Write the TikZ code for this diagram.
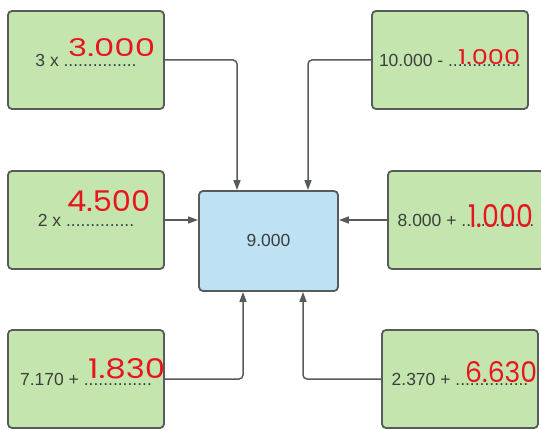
\documentclass[tikz,border=0pt]{standalone}
\usepackage{fontspec}
\setmainfont{Liberation Sans}
\newfontfamily\handfont{Poppins}
\usepackage{graphicx}
\usepackage{tikz}
\usetikzlibrary{arrows.meta}
\definecolor{sumgreen}{HTML}{C4E6AE}
\definecolor{sumblue}{HTML}{BEE2F3}
\definecolor{sumline}{HTML}{575B5A}
\definecolor{sumtext}{HTML}{3A3F3C}
\definecolor{handred}{HTML}{E8141E}
% handwritten answer, stretched to the given width and height
\newcommand{\handans}[3]{\resizebox{#1pt}{#2pt}{\handfont #3}}
\tikzset{
  % node options
  sum/.style={rectangle,rounded corners=4pt,draw=sumline,line width=1.8pt,
    fill=sumgreen,minimum width=156pt,minimum height=98pt,
    text=sumtext,font=\fontsize{17.5}{19}\selectfont,inner sep=0pt},
  result/.style={sum,fill=sumblue,minimum width=139pt,minimum height=100pt},
  answer/.style={text=handred,inner sep=0pt,anchor=base west},
  % path options
  feed/.style={draw=sumline,line width=1.5pt,rounded corners=4pt,
    -{Triangle[length=10pt,width=7pt]}},
}
\begin{document}
\begin{tikzpicture}[x=1pt,y=-1pt]
  \useasboundingbox (0,0) rectangle (541,430);
  \node[result] (total) at (268.5,241) {\raisebox{-6pt}[0pt][0pt]{\makebox[0pt]{9.000}}};
  \node[sum] (mul3) at (86,60) {3 x ...............};
  \node[sum] (minus) at (450,60) {10.000 - ...............};
  \node[sum] (mul2) at (86,220) {2 x ..............};
  \node[sum] (plus8) at (466,220) {8.000 + ...............};
  \node[sum] (plus7) at (86,379) {7.170 + ..............};
  \node[sum] (plus2) at (460,379) {2.370 + ...............};
  % answers
  \node[answer] (ans1) at (68,57) {\handans{87}{18}{3.000}};
  \node[answer] (ans2) at (458,65) {\handans{62}{15}{1.000}};
  \node[answer] (ans3) at (67,212) {\handans{83}{21}{4.500}};
  \node[answer] (ans4) at (468,228) {\handans{65}{23}{1.000}};
  \node[answer] (ans5) at (88,379) {\handans{77}{20}{1.830}};
  \node[answer] (ans6) at (465,383) {\handans{72}{21}{6.630}};
  % connectors
  \draw[feed] (mul3.east) -| ([xshift=-31.5pt]total.north);
  \draw[feed] (minus.west) -| ([xshift=39.5pt]total.north);
  \draw[feed] (mul2.east) -- (mul2.east -| total.west);
  \draw[feed] (plus8.west) -- (plus8.west -| total.east);
  \draw[feed] (plus7.east) -| ([xshift=-25.5pt]total.south);
  \draw[feed] (plus2.west) -| ([xshift=34.5pt]total.south);
\end{tikzpicture}
\end{document}
